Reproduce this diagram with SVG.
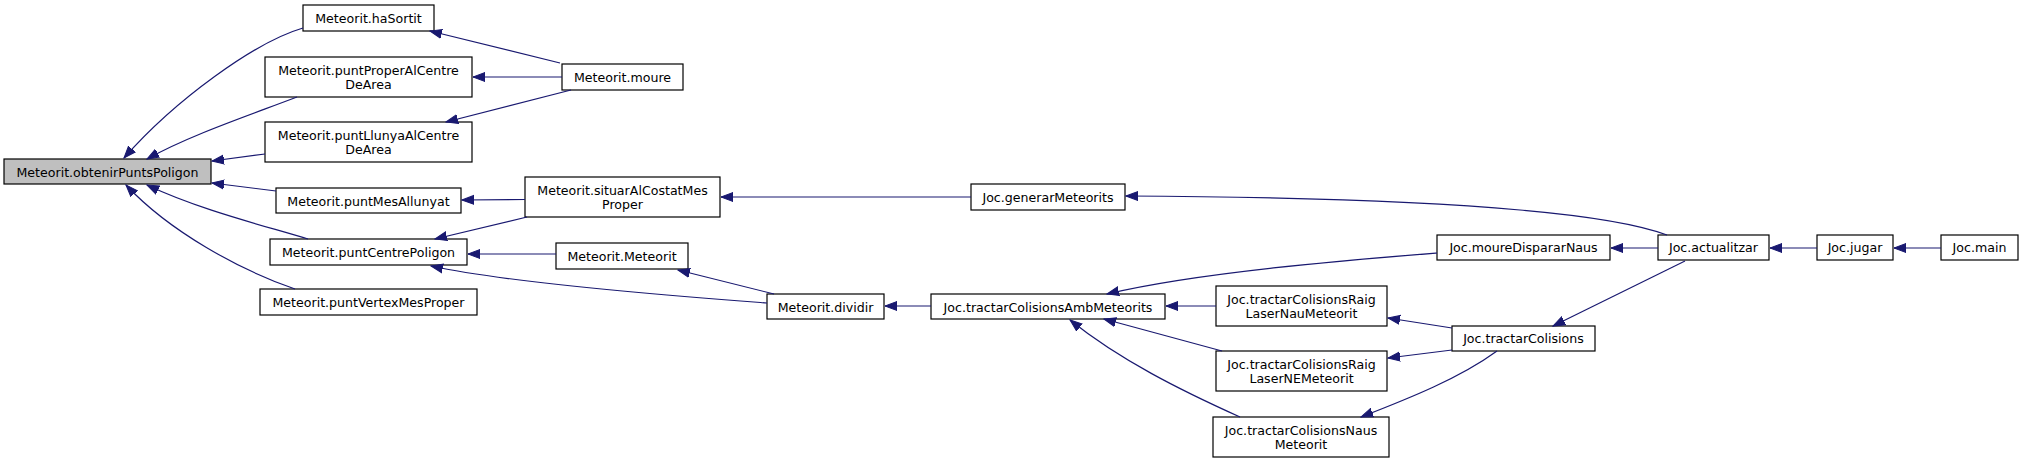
<svg xmlns="http://www.w3.org/2000/svg" width="2023" height="463" viewBox="0 0 2023 463">
<style>
.node rect{fill:#ffffff;stroke:#000000;stroke-width:1.2}
.node.hl rect{fill:#bfbfbf}
.node text{font-family:"DejaVu Sans","Liberation Sans",sans-serif;font-size:12.6px;fill:#000000;text-anchor:middle}
.edges path{fill:none;stroke:#191970;stroke-width:1.2;marker-end:url(#arr)}
</style>
<defs>
<marker id="arr" markerUnits="userSpaceOnUse" markerWidth="13" markerHeight="11" viewBox="0 0 13 11" refX="12" refY="5.5" orient="auto">
<path d="M0,1 L12,5.5 L0,10 z" fill="#191970" stroke="#191970" stroke-width="1"/>
</marker>
</defs>
<rect x="0" y="0" width="2023" height="463" fill="#ffffff"/>
<g id="nodes">
<g id="n_obtenir" class="node hl"><rect x="4" y="159" width="207" height="25"/><text x="107.5" y="176.5">Meteorit.obtenirPuntsPoligon</text></g>
<g id="n_haSortit" class="node"><rect x="303" y="5" width="131" height="26"/><text x="368.5" y="22.5">Meteorit.haSortit</text></g>
<g id="n_proper" class="node"><rect x="265" y="57" width="207" height="40"/><text x="368.5" y="75">Meteorit.puntProperAlCentre</text><text x="368.5" y="88.5">DeArea</text></g>
<g id="n_moure" class="node"><rect x="562" y="64" width="121" height="26"/><text x="622.5" y="81.5">Meteorit.moure</text></g>
<g id="n_llunya" class="node"><rect x="265" y="122" width="207" height="40"/><text x="368.5" y="140">Meteorit.puntLlunyaAlCentre</text><text x="368.5" y="153.5">DeArea</text></g>
<g id="n_mesAllunyat" class="node"><rect x="276" y="188" width="185" height="25"/><text x="368.5" y="205.5">Meteorit.puntMesAllunyat</text></g>
<g id="n_situar" class="node"><rect x="525" y="177" width="195" height="40"/><text x="622.5" y="195">Meteorit.situarAlCostatMes</text><text x="622.5" y="208.5">Proper</text></g>
<g id="n_centre" class="node"><rect x="270" y="239" width="197" height="26"/><text x="368.5" y="256.5">Meteorit.puntCentrePoligon</text></g>
<g id="n_meteorit" class="node"><rect x="556" y="243" width="132" height="26"/><text x="622" y="260.5">Meteorit.Meteorit</text></g>
<g id="n_vertex" class="node"><rect x="260" y="289" width="217" height="26"/><text x="368.5" y="306.5">Meteorit.puntVertexMesProper</text></g>
<g id="n_generar" class="node"><rect x="971" y="184" width="154" height="26"/><text x="1048" y="201.5">Joc.generarMeteorits</text></g>
<g id="n_dividir" class="node"><rect x="767" y="294" width="117" height="25"/><text x="825.5" y="311.5">Meteorit.dividir</text></g>
<g id="n_tractarAmb" class="node"><rect x="931" y="294" width="234" height="25"/><text x="1048" y="311.5">Joc.tractarColisionsAmbMeteorits</text></g>
<g id="n_raigNau" class="node"><rect x="1216" y="286" width="171" height="40"/><text x="1301.5" y="304">Joc.tractarColisionsRaig</text><text x="1301.5" y="317.5">LaserNauMeteorit</text></g>
<g id="n_raigNE" class="node"><rect x="1216" y="351" width="171" height="40"/><text x="1301.5" y="369">Joc.tractarColisionsRaig</text><text x="1301.5" y="382.5">LaserNEMeteorit</text></g>
<g id="n_naus" class="node"><rect x="1213" y="417" width="176" height="40"/><text x="1301" y="435">Joc.tractarColisionsNaus</text><text x="1301" y="448.5">Meteorit</text></g>
<g id="n_moureDisp" class="node"><rect x="1437" y="235" width="173" height="25"/><text x="1523.5" y="252">Joc.moureDispararNaus</text></g>
<g id="n_actualitzar" class="node"><rect x="1658" y="235" width="111" height="25"/><text x="1713.5" y="252">Joc.actualitzar</text></g>
<g id="n_jugar" class="node"><rect x="1817" y="235" width="76" height="25"/><text x="1855" y="252">Joc.jugar</text></g>
<g id="n_main" class="node"><rect x="1941" y="235" width="77" height="25"/><text x="1979.5" y="252">Joc.main</text></g>
<g id="n_tractarCol" class="node"><rect x="1452" y="326" width="143" height="25"/><text x="1523.5" y="343">Joc.tractarColisions</text></g>
</g>
<g id="edges" class="edges">
<path d="M303,28 C255,42 175,100 124,158"/>
<path d="M297,97 C250,115 190,135 147,159"/>
<path d="M265,154 L212,161"/>
<path d="M276,191 L212,183"/>
<path d="M308,239 C262,225 200,210 147,185"/>
<path d="M295,289 C240,270 170,232 126,185"/>
<path d="M560,63 L430,31"/>
<path d="M562,77 L473,77"/>
<path d="M571,90 L446,122"/>
<path d="M525,199.5 L462,200"/>
<path d="M527,217 L435,239"/>
<path d="M556,254 L468,254"/>
<path d="M767,303 C700,298 520,285 431,266"/>
<path d="M774,294 L678,270"/>
<path d="M971,197 L721,197"/>
<path d="M1667,235 C1640,225 1600,217 1520,210 C1420,201 1300,197 1126,196"/>
<path d="M931,306 L885,306"/>
<path d="M1437,253 C1350,260 1200,272 1107,294"/>
<path d="M1658,248 L1611,248"/>
<path d="M1817,248 L1770,248"/>
<path d="M1941,248 L1894,248"/>
<path d="M1216,306 L1166,306"/>
<path d="M1222,351 L1104,319"/>
<path d="M1240,417 C1180,390 1120,360 1070,320"/>
<path d="M1452,328 L1388,318"/>
<path d="M1452,350 L1388,358"/>
<path d="M1497,351 C1460,378 1410,398 1361,417"/>
<path d="M1685,261 L1553,326"/>
</g>
</svg>
